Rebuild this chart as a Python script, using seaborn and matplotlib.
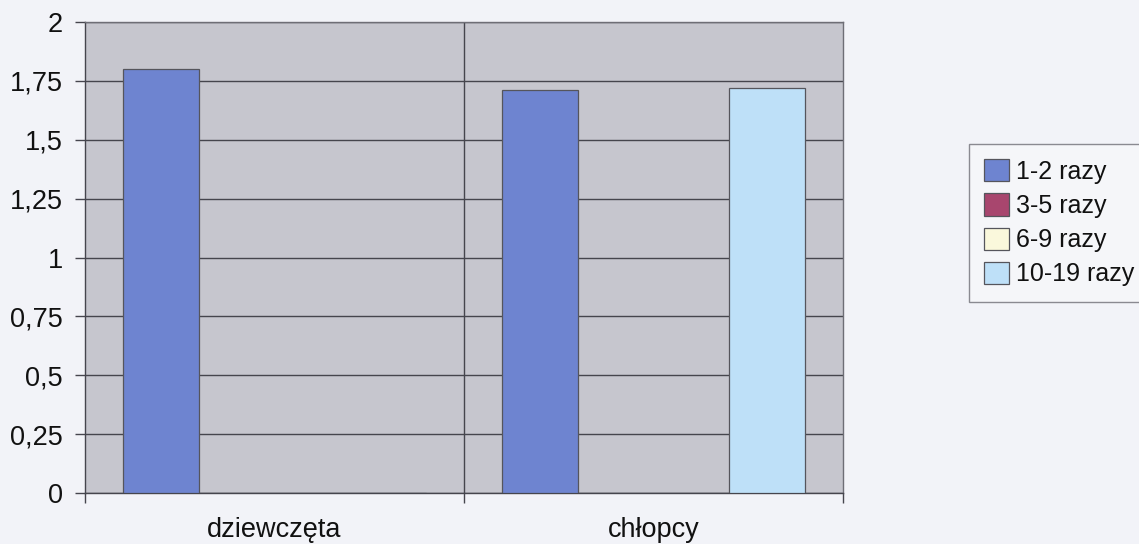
import matplotlib
matplotlib.use("Agg")
import matplotlib.pyplot as plt
import seaborn as sns
import pandas as pd
from matplotlib.ticker import FixedLocator, FuncFormatter

categories = ["dziewczęta", "chłopcy"]
series = ["1-2 razy", "3-5 razy", "6-9 razy", "10-19 razy"]
values_dziewczeta = [1.80, 0.0, 0.0, 0.0]
values_chlopcy = [1.71, 0.0, 0.0, 1.72]
colors = ["#6E84D0", "#A8466E", "#FAF8DC", "#BEE0F8"]

rows = []
for cat, vals in zip(categories, [values_dziewczeta, values_chlopcy]):
    for s, v in zip(series, vals):
        rows.append({"kat": cat, "seria": s, "wartosc": v})
df = pd.DataFrame(rows)

sns.set_theme(style="white")
plt.rcParams["font.family"] = ["Liberation Sans", "DejaVu Sans"]

fig = plt.figure(figsize=(11.39, 5.44), dpi=100)
fig.patch.set_facecolor("#F2F3F8")
ax = fig.add_axes([85/1139, 1-493/544, (843-85)/1139, (493-22)/544])
ax.set_facecolor("#C6C6CE")

sns.barplot(data=df, x="kat", y="wartosc", hue="seria", order=categories,
            hue_order=series, palette=colors, saturation=1, width=0.8, ax=ax,
            edgecolor="#55555C", linewidth=0.9, legend=True, zorder=3)

ax.set_xlim(-0.5, 1.5)
ax.set_ylim(0, 2)
yt = [0, 0.25, 0.5, 0.75, 1, 1.25, 1.5, 1.75, 2]
ax.yaxis.set_major_locator(FixedLocator(yt))
ax.yaxis.set_major_formatter(FuncFormatter(lambda v, p: ("%g" % v).replace(".", ",")))
ax.grid(axis="y", color="#45454D", linewidth=1.0, zorder=1)
ax.set_axisbelow(True)
ax.axvline(0.5, color="#45454D", linewidth=1.0, zorder=1)

ax.xaxis.set_major_locator(FixedLocator([-0.5, 0.5, 1.5]))
ax.xaxis.set_major_formatter(FuncFormatter(lambda v, p: ""))
ax.xaxis.set_minor_locator(FixedLocator([0, 1]))
ax.set_xticks([0, 1], categories, minor=True)
ax.tick_params(axis="x", which="major", direction="out", length=7.2, width=1.0,
               color="#45454D", bottom=True)
ax.tick_params(axis="x", which="minor", length=0, pad=17.5, labelsize=19.5,
               labelcolor="#111111")
ax.tick_params(axis="y", direction="out", length=7.2, width=1.0, color="#45454D",
               left=True, pad=8.6, labelsize=19.5, labelcolor="#111111")
ax.set_xlabel("")
ax.set_ylabel("")

for side in ["left", "bottom"]:
    ax.spines[side].set_color("#45454D")
    ax.spines[side].set_linewidth(1.0)
for side in ["top", "right"]:
    ax.spines[side].set_color("#6E6E76")
    ax.spines[side].set_linewidth(1.0)

handles, labels = ax.get_legend_handles_labels()
ax.get_legend().remove()
leg = fig.legend(handles, labels, loc="upper left", bbox_to_anchor=(969/1139, 1-144/544),
                 frameon=True, fancybox=False, fontsize=18, handlelength=1.0,
                 handleheight=1.0, handletextpad=0.3, labelspacing=0.38,
                 borderpad=0.6, borderaxespad=0)
leg.get_frame().set_edgecolor("#707078")
leg.get_frame().set_facecolor("#F7F7FA")
leg.get_frame().set_linewidth(1.0)
for t in leg.get_texts():
    t.set_color("#111111")

fig.savefig("out.png", dpi=100, facecolor=fig.get_facecolor())
